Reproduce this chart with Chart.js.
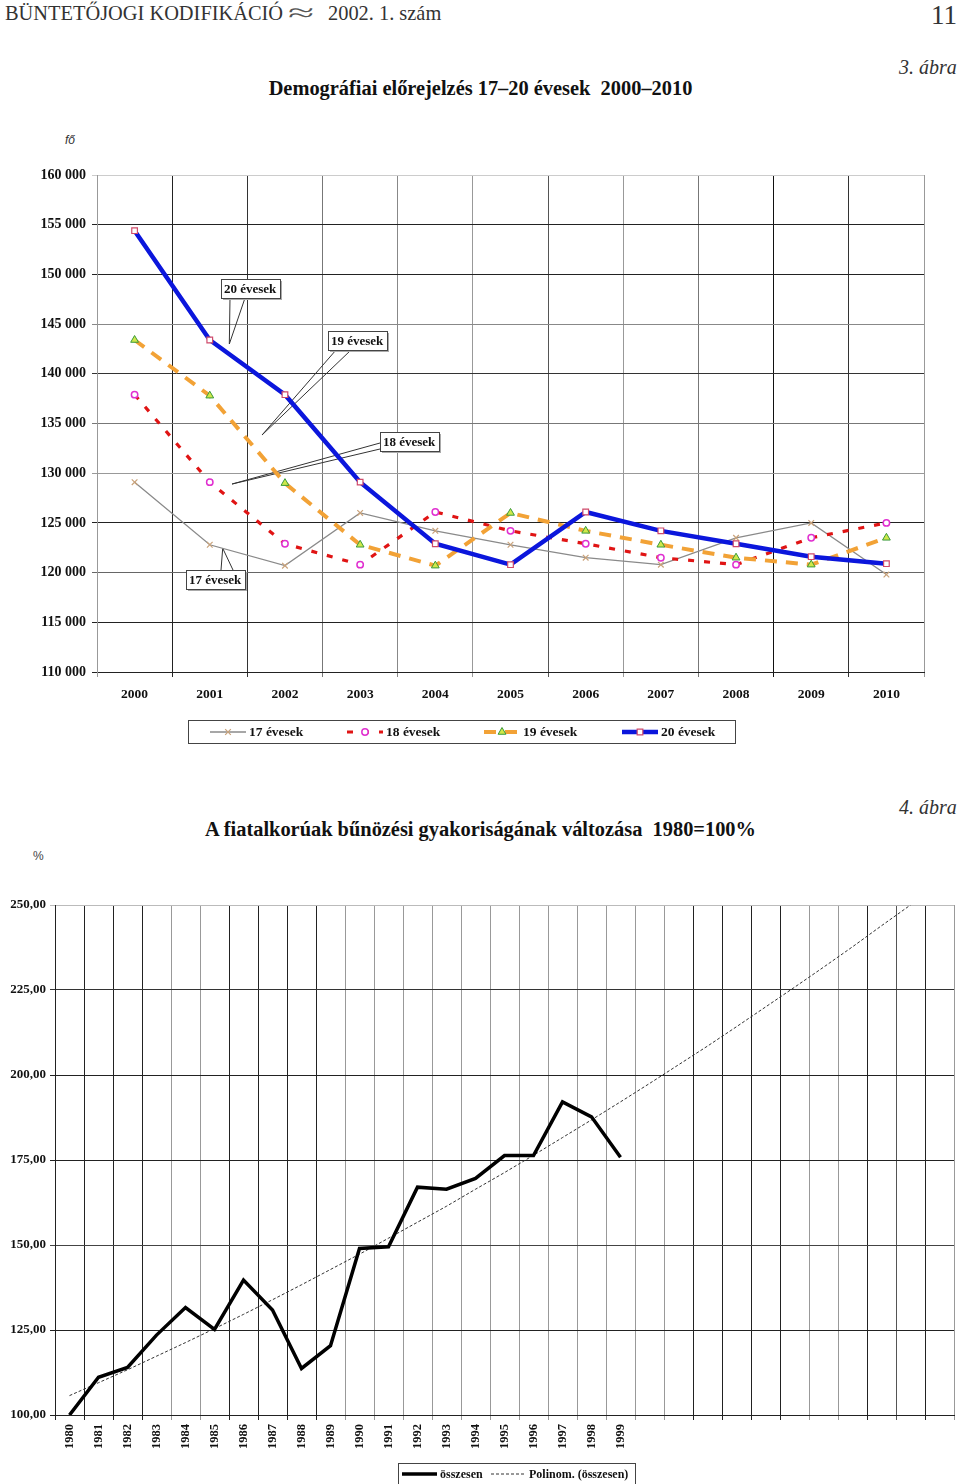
<!DOCTYPE html>
<html>
<head>
<meta charset="utf-8">
<script src="https://cdn.jsdelivr.net/npm/chart.js@4.4.1/dist/chart.umd.min.js"></script>
<style>
  body { margin: 0; background: #fff; width: 960px; height: 1484px; position: relative; overflow: hidden; font-family: "Liberation Serif", serif; color: #222; }
  .t { position: absolute; white-space: nowrap; line-height: 1; }
  canvas { position: absolute; left: 0; }
</style>
</head>
<body>
<div class="t" style="left:5px;top:3px;font-size:20.4px;color:#333">BÜNTETŐJOGI KODIFIKÁCIÓ</div>
<div class="t" style="left:288px;top:0px;font-size:25px;color:#555;transform:scaleX(1.9);transform-origin:left">≈</div>
<div class="t" style="left:328px;top:3px;font-size:20.4px;color:#333">2002. 1. szám</div>
<div class="t" style="left:931px;top:2px;font-size:27px;color:#333">11</div>
<div class="t" style="left:899px;top:57px;font-size:20px;font-style:italic;color:#333">3. ábra</div>
<div class="t" style="left:0;width:961px;text-align:center;top:78px;font-size:20.4px;font-weight:bold;color:#111">Demográfiai előrejelzés 17–20 évesek&nbsp; 2000–2010</div>
<div class="t" style="left:65px;top:134px;font-size:12px;font-style:italic;font-family:'Liberation Sans',sans-serif;color:#333">fő</div>

<canvas id="abra3" width="960" height="590" style="top:160px"></canvas>

<div class="t" style="left:899px;top:797px;font-size:20px;font-style:italic;color:#333">4. ábra</div>
<div class="t" style="left:0;width:961px;text-align:center;top:819px;font-size:20.4px;font-weight:bold;color:#111">A fiatalkorúak bűnözési gyakoriságának változása&nbsp; 1980=100%</div>
<div class="t" style="left:33px;top:850px;font-size:12px;font-family:'Liberation Sans',sans-serif;color:#444">%</div>

<canvas id="abra4" width="960" height="604" style="top:880px"></canvas>

<script>
  // --- 3. ábra adatai (fő) ---
  const evek = ['2000', '2001', '2002', '2003', '2004', '2005', '2006', '2007', '2008', '2009', '2010'];
  const evesek17 = [129100, 122800, 120700, 126000, 124200, 122800, 121500, 120800, 123500, 125000, 119800];
  const evesek18 = [137900, 129100, 122900, 120800, 126100, 124200, 122900, 121500, 120800, 123500, 125000];
  const evesek19 = [143400, 137800, 129000, 122800, 120700, 126000, 124200, 122800, 121500, 120800, 123500];
  const evesek20 = [154400, 143400, 137900, 129100, 122900, 120800, 126100, 124200, 122900, 121600, 120900];

  // --- 4. ábra adatai (1980=100%) ---
  const evek4 = ['1980', '1981', '1982', '1983', '1984', '1985', '1986', '1987', '1988', '1989',
                 '1990', '1991', '1992', '1993', '1994', '1995', '1996', '1997', '1998', '1999',
                 '', '', '', '', '', '', '', '', '', '', ''];
  const osszesen = [100.0, 111.1, 114.0, 123.5, 131.6, 125.2, 139.7, 130.9, 113.7, 120.4,
                    149.0, 149.5, 167.0, 166.4, 169.6, 176.3, 176.3, 192.1, 187.7, 175.8];
  const polinom = [105.7, 109.5, 113.3, 117.3, 121.3, 125.4, 129.6, 133.9, 138.3, 142.8,
                   147.3, 152.0, 156.7, 161.4, 166.4, 171.3, 176.4, 181.6, 186.8, 192.1,
                   197.5, 203.0, 208.5, 214.2, 220.0, 225.8, 231.7, 237.7, 243.9, 250.0];

  const serifBold = (s) => ({ family: '"Liberation Serif", serif', size: s, weight: 'bold' });

  // racsvonalak szinei (a jpeg-ben is valtozoak)
  const racs3x = ['#9a9a9a', '#222', '#333', '#777', '#888', '#999', '#555', '#999', '#777', '#111', '#333', '#aaa'];
  const racs3y = ['#222', '#222', '#666', '#222', '#999', '#777', '#333', '#888', '#222', '#222', '#ccc'];
  const racs4x = ['#222', '#222', '#222', '#222', '#999', '#999', '#222', '#222', '#222', '#222',
                  '#999', '#999', '#999', '#999', '#999', '#999', '#999', '#999', '#999', '#999',
                  '#999', '#999', '#222', '#222', '#222', '#222', '#999', '#999', '#222', '#555', '#222', '#bbb'];
  const racs4y = ['#222', '#222', '#444', '#222', '#222', '#333', '#bbb'];

  // sajat jelmagyarazat + feliratok
  const keziPlugin = {
    id: 'kezi',
    beforeDatasetsDraw(chart, args, opts) {
      if (!opts.callouts) return;
      const ctx = chart.ctx;
      const xs = chart.scales.x, ys = chart.scales.y;
      ctx.save();
      ctx.font = 'bold 13px "Liberation Serif"';
      opts.callouts.forEach(c => {
        const bx = Math.round(xs.getPixelForValue(c.x));
        const by = Math.round(ys.getPixelForValue(c.y));
        const w = Math.ceil(ctx.measureText(c.text).width) + 6, h = 19;
        const tx = xs.getPixelForValue(c.tx), ty = ys.getPixelForValue(c.ty);
        let p1, p2;
        if (c.side === 'b') { p1 = [bx + c.a, by + h]; p2 = [bx + c.b, by + h]; }
        else if (c.side === 't') { p1 = [bx + c.a, by]; p2 = [bx + c.b, by]; }
        else { p1 = [bx, by + c.a]; p2 = [bx, by + c.b]; }
        ctx.strokeStyle = '#333';
        ctx.lineWidth = 1;
        ctx.beginPath();
        ctx.moveTo(p1[0], p1[1]); ctx.lineTo(tx, ty); ctx.lineTo(p2[0], p2[1]);
        ctx.stroke();
        ctx.fillStyle = '#aaa';
        ctx.fillRect(bx + 2, by + 2, w, h);
        ctx.fillStyle = '#fff';
        ctx.fillRect(bx, by, w, h);
        ctx.strokeStyle = '#444';
        ctx.strokeRect(bx + 0.5, by + 0.5, w, h);
        ctx.fillStyle = '#111';
        ctx.textBaseline = 'middle';
        ctx.fillText(c.text, bx + 3, by + h / 2 + 1);
      });
      ctx.restore();
    },
    afterDraw(chart, args, opts) {
      if (!opts.box) return;
      const ctx = chart.ctx;
      const [bx, by, bw, bh] = opts.box;
      ctx.save();
      ctx.fillStyle = '#fff';
      ctx.fillRect(bx, by, bw, bh);
      ctx.strokeStyle = '#444';
      ctx.lineWidth = 1;
      ctx.strokeRect(bx + 0.5, by + 0.5, bw, bh);
      const cy = by + bh / 2 + 0.5;
      chart.data.datasets.forEach((ds, i) => {
        const x0 = opts.items[i], x1 = x0 + opts.len;
        ctx.setLineDash(ds.borderDash || []);
        ctx.strokeStyle = ds.borderColor;
        ctx.lineWidth = ds.borderWidth;
        ctx.beginPath(); ctx.moveTo(x0, cy); ctx.lineTo(x1, cy); ctx.stroke();
        ctx.setLineDash([]);
        if (ds.pointRadius) {
          ctx.fillStyle = ds.pointBackgroundColor;
          ctx.strokeStyle = ds.pointBorderColor;
          ctx.lineWidth = ds.pointBorderWidth;
          Chart.helpers.drawPoint(ctx, { pointStyle: ds.pointStyle, radius: ds.pointRadius, borderWidth: ds.pointBorderWidth, rotation: 0 }, (x0 + x1) / 2, cy);
        }
        ctx.fillStyle = '#111';
        ctx.font = opts.font;
        ctx.textBaseline = 'middle';
        ctx.fillText(ds.label, x1 + 3, cy + 1);
      });
      ctx.restore();
    }
  };

  // 3. ábra
  new Chart(document.getElementById('abra3'), {
    type: 'line',
    data: {
      labels: evek,
      datasets: [
        { label: '17 évesek', data: evesek17, borderColor: '#8a8a8a', borderWidth: 1.3,
          pointStyle: 'crossRot', pointRadius: 4, pointBorderColor: '#c9a27a', pointBackgroundColor: '#c9a27a', pointBorderWidth: 1.2, order: 4 },
        { label: '18 évesek', data: evesek18, borderColor: '#e01414', borderWidth: 3.2, borderDash: [6, 10],
          pointStyle: 'circle', pointRadius: 3.2, pointBorderColor: '#e030d0', pointBackgroundColor: '#fff', pointBorderWidth: 1.5, order: 3 },
        { label: '19 évesek', data: evesek19, borderColor: '#f2a236', borderWidth: 4, borderDash: [12, 9],
          pointStyle: 'triangle', pointRadius: 4.5, pointBorderColor: '#3a9a3a', pointBackgroundColor: '#cfe84a', pointBorderWidth: 1, order: 2 },
        { label: '20 évesek', data: evesek20, borderColor: '#0b16dc', borderWidth: 4.5,
          pointStyle: 'rect', pointRadius: 4, pointBorderColor: '#d04a6a', pointBackgroundColor: '#fff', pointBorderWidth: 1.2, order: 1 }
      ]
    },
    options: {
      responsive: false,
      animation: false,
      layout: { padding: { top: 15, right: 36, bottom: 48, left: 0 } },
      scales: {
        x: {
          offset: true,
          grid: { offset: true, tickLength: 5, color: ctx => racs3x[ctx.index] || '#999' },
          border: { color: '#222' },
          ticks: { font: serifBold(13.5), color: '#111', padding: 9, maxRotation: 0 },
          afterFit: s => { s.height = 30; }
        },
        y: {
          min: 110000, max: 160000,
          grid: { tickLength: 5, color: ctx => racs3y[ctx.index] || '#333' },
          border: { color: '#999' },
          ticks: { stepSize: 5000, font: serifBold(14), color: '#111', padding: 6,
                   callback: v => String(v).replace(/\B(?=(\d{3})+(?!\d))/g, ' ') },
          afterFit: s => { s.width = 97; }
        }
      },
      plugins: {
        legend: { display: false },
        tooltip: { enabled: false },
        kezi: {
          box: [188, 560, 547, 23],
          items: [210, 347, 484, 622],
          len: 36,
          font: 'bold 13.5px "Liberation Serif"',
          callouts: [
            { text: '20 évesek', x: 1.145, y: 149500, tx: 1.26, ty: 143000, side: 'b', a: 9, b: 24 },
            { text: '19 évesek', x: 2.577, y: 144340, tx: 1.695, ty: 133840, side: 'b', a: 8, b: 23 },
            { text: '18 évesek', x: 3.264, y: 134180, tx: 1.296, ty: 128910, side: 'l', a: 11, b: 17 },
            { text: '17 évesek', x: 0.68, y: 120260, tx: 1.172, ty: 122450, side: 't', a: 35, b: 47 }
          ]
        }
      }
    },
    plugins: [keziPlugin]
  });

  // 4. ábra
  new Chart(document.getElementById('abra4'), {
    type: 'line',
    data: {
      labels: evek4,
      datasets: [
        { label: 'összesen', data: osszesen, borderColor: '#000', borderWidth: 3.5, pointRadius: 0, order: 1 },
        { label: 'Polinom. (összesen)', data: polinom, borderColor: '#333', borderWidth: 1, borderDash: [3, 2], pointRadius: 0, order: 2 }
      ]
    },
    options: {
      responsive: false,
      animation: false,
      layout: { padding: { top: 25, right: 6, bottom: 29, left: 0 } },
      scales: {
        x: {
          offset: true,
          grid: { offset: true, tickLength: 5, color: ctx => racs4x[ctx.index] || '#999' },
          border: { color: '#222' },
          ticks: { font: serifBold(12.5), color: '#111', padding: 4, autoSkip: false, minRotation: 90, maxRotation: 90 },
          afterFit: s => { s.height = 40; }
        },
        y: {
          min: 100, max: 250,
          grid: { tickLength: 5, color: ctx => racs4y[ctx.index] || '#222' },
          border: { color: '#222' },
          ticks: { stepSize: 25, font: serifBold(13), color: '#111', padding: 4,
                   callback: v => v.toFixed(2).replace('.', ',') },
          afterFit: s => { s.width = 55; }
        }
      },
      plugins: {
        legend: { display: false },
        tooltip: { enabled: false },
        kezi: {
          box: [398, 583, 237, 21],
          items: [402, 491],
          len: 35,
          font: 'bold 12px "Liberation Serif"'
        }
      }
    },
    plugins: [keziPlugin]
  });
</script>
</body>
</html>
